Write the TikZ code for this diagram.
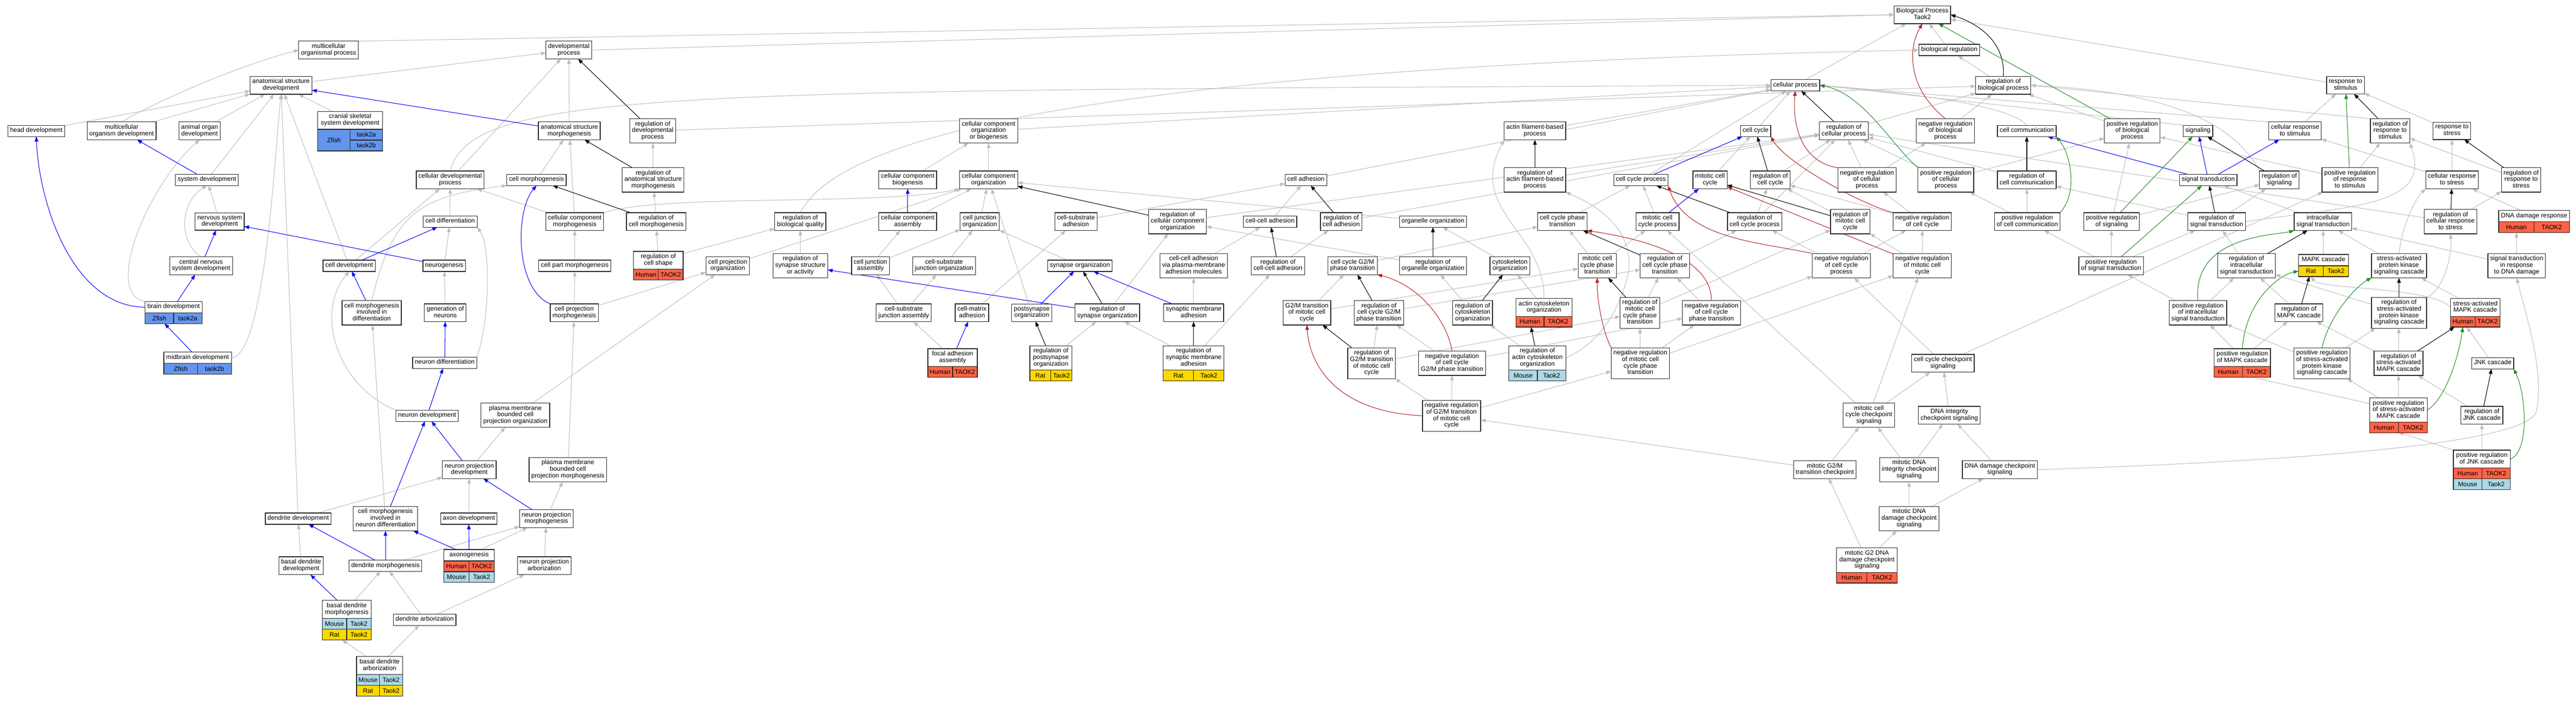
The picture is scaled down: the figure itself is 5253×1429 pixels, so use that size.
\documentclass[tikz,border=0pt]{standalone}
\usepackage{fontspec}
\setmainfont{Liberation Sans}
\usepackage{tikz}
\usetikzlibrary{
    arrows.meta,
    backgrounds, % edges go behind the terms
    calc % for the species rows
}

\definecolor{isagray}{HTML}{BEBEBE}
\definecolor{partblue}{HTML}{0000FF}
\definecolor{negred}{HTML}{B22222}
\definecolor{posgreen}{HTML}{228B22}
\definecolor{human}{HTML}{FF6347}
\definecolor{mouse}{HTML}{ADD8E6}
\definecolor{rat}{HTML}{FFD700}
\definecolor{zfish}{HTML}{6495ED}

\newcommand{\termfont}{\fontsize{13}{13.3}\selectfont}
% one species row under a term: term, row, species, gene, colour
\newcommand{\sprow}[5]{%
  \path let \p1=($(#1.south east)-(#1.south west)$) in
    node[cell, fill=#5, minimum width=0.5*\x1, anchor=north west]
      (#1s#2) at ($(#1.south west)+(0,#2*22-22)$) {#3}
    node[cell, fill=#5, minimum width=0.5*\x1, anchor=north east]
      (#1g#2) at ($(#1.south east)+(0,#2*22-22)$) {#4};
}

\tikzset{
  term/.style={draw=black!85, line width=1.3pt, fill=white, align=center,
    font=\termfont, inner xsep=4.5pt, inner ysep=4.85pt, outer sep=0pt,
    minimum height=23pt, execute at begin node=\strut, execute at end node=\strut},
  cell/.style={draw=black!85, line width=1.3pt, font=\termfont, inner sep=0pt,
    outer sep=0pt, minimum height=22pt},
  goedge/.style={line width=1.1pt, -{Triangle[length=10pt,width=7.5pt]}},
  isa/.style={goedge, draw=isagray},
  partof/.style={goedge, draw=partblue},
  regs/.style={goedge, draw=black},
  negregs/.style={goedge, draw=negred},
  posregs/.style={goedge, draw=posgreen}
}

\begin{document}
\begin{tikzpicture}[x=1pt, y=-1pt]
    \useasboundingbox (0,0) rectangle (5253,1429);

    % development, left
    \node[term] (mop) at (670,102) {multicellular\\organismal process};
    \node[term] (asd) at (573,174) {anatomical structure\\development};
    \node[term] (headdev) at (74,267) {head development};
    \node[term] (mod) at (248,267) {multicellular\\organism development};
    \node[term] (aod) at (407,267) {animal organ\\development};
    \node[term, minimum width=132pt] (cranial) at (714,245.5) {cranial skeletal\\system development};
    \node[term] (sysdev) at (422,367) {system development};
    \node[term] (nsd) at (448,452) {nervous system\\development};
    \node[term] (cnsd) at (410,542) {central nervous\\system development};
    \node[term, minimum width=116pt] (braindev) at (354,626.5) {brain development};
    \node[term, minimum width=138pt] (midbrain) at (403,730) {midbrain development};
    \node[term] (celldev) at (712,542) {cell development};
    \node[term] (cmid) at (758,638) {cell morphogenesis\\involved in\\differentiation};
    \node[term] (cdp) at (918,367) {cellular developmental\\process};
    \node[term] (celldiff) at (918,452) {cell differentiation};
    \node[term] (neurogenesis) at (906,542) {neurogenesis};
    \node[term] (genneur) at (908,638) {generation of\\neurons};
    \node[term] (neurdiff) at (907,740) {neuron differentiation};
    \node[term] (neurdev) at (871,848) {neuron development};
    \node[term] (pmbcpo) at (1051,847) {plasma membrane\\bounded cell\\projection organization};
    \node[term] (npd) at (957,958) {neuron projection\\development};
    \node[term] (pmbcpm) at (1158,958) {plasma membrane\\bounded cell\\projection morphogenesis};
    \node[term] (axondev) at (956,1058) {axon development};
    \node[term] (npm) at (1114,1058) {neuron projection\\morphogenesis};
    \node[term, minimum width=103pt] (axonogenesis) at (956.5,1132.5) {axonogenesis};
    \node[term] (npa) at (1110,1154) {neuron projection\\arborization};
    \node[term] (dendev) at (608,1058) {dendrite development};
    \node[term] (cmind) at (786,1058) {cell morphogenesis\\involved in\\neuron differentiation};
    \node[term] (bdd) at (614,1154) {basal dendrite\\development};
    \node[term] (denmorph) at (786,1154) {dendrite morphogenesis};
    \node[term, minimum width=100pt] (bdm) at (707,1243) {basal dendrite\\morphogenesis};
    \node[term] (denarb) at (866,1264) {dendrite arborization};
    \node[term, minimum width=94pt] (bda) at (774,1357.5) {basal dendrite\\arborization};

    % morphogenesis
    \node[term] (devproc) at (1160,102) {developmental\\process};
    \node[term] (asm) at (1161,267) {anatomical structure\\morphogenesis};
    \node[term] (regdevproc) at (1331,267) {regulation of\\developmental\\process};
    \node[term] (cellmorph) at (1094,367) {cell morphogenesis};
    \node[term] (regasm) at (1332,367) {regulation of\\anatomical structure\\morphogenesis};
    \node[term] (ccmorph) at (1172,452) {cellular component\\morphogenesis};
    \node[term] (regcellmorph) at (1338,452) {regulation of\\cell morphogenesis};
    \node[term] (regbioq) at (1632,452) {regulation of\\biological quality};
    \node[term] (cpmorph) at (1172,542) {cell part morphogenesis};
    \node[term, minimum width=101pt] (regcellshape) at (1342.5,531) {regulation of\\cell shape};
    \node[term] (cpo) at (1484,542) {cell projection\\organization};
    \node[term] (regsynstruct) at (1632,542) {regulation of\\synapse structure\\or activity};
    \node[term] (cpm) at (1171,638) {cell projection\\morphogenesis};

    % component organization
    \node[term] (ccob) at (2016,267) {cellular component\\organization\\or biogenesis};
    \node[term] (ccb) at (1851,367) {cellular component\\biogenesis};
    \node[term] (cco) at (2016,367) {cellular component\\organization};
    \node[term] (cca) at (1851,452) {cellular component\\assembly};
    \node[term] (cjo) at (1998,452) {cell junction\\organization};
    \node[term] (csa) at (2194,452) {cell-substrate\\adhesion};
    \node[term] (regcco) at (2401,452) {regulation of\\cellular component\\organization};
    \node[term] (cellcelladh) at (2590,452) {cell-cell adhesion};
    \node[term] (cja) at (1775,542) {cell junction\\assembly};
    \node[term] (csjo) at (1925,542) {cell-substrate\\junction organization};
    \node[term] (synorg) at (2202,542) {synapse organization};
    \node[term] (ccapm) at (2434,542) {cell-cell adhesion\\via plasma-membrane\\adhesion molecules};
    \node[term] (regccadh) at (2606,542) {regulation of\\cell-cell adhesion};
    \node[term] (csja) at (1843,638) {cell-substrate\\junction assembly};
    \node[term] (cmadh) at (1982,638) {cell-matrix\\adhesion};
    \node[term] (postsynorg) at (2104,638) {postsynapse\\organization};
    \node[term] (regsynorg) at (2258,638) {regulation of\\synapse organization};
    \node[term] (synmemadh) at (2434,638) {synaptic membrane\\adhesion};
    \node[term, minimum width=101pt] (faa) at (1942.5,729.5) {focal adhesion\\assembly};
    \node[term, minimum width=86pt] (regpostsyn) at (2143,730) {regulation of\\postsynapse\\organization};
    \node[term, minimum width=124pt] (regsynmemadh) at (2434,730) {regulation of\\synaptic membrane\\adhesion};

    % cell cycle
    \node[term] (afbp) at (3130,267) {actin filament-based\\process};
    \node[term] (regafbp) at (3130,367) {regulation of\\actin filament-based\\process};
    \node[term] (celladh) at (2663,367) {cell adhesion};
    \node[term] (ccp) at (3346,367) {cell cycle process};
    \node[term] (mcc) at (3487,367) {mitotic cell\\cycle};
    \node[term] (regcelladh) at (2735,452) {regulation of\\cell adhesion};
    \node[term] (orgorg) at (2922,452) {organelle organization};
    \node[term] (ccpt) at (3186,452) {cell cycle phase\\transition};
    \node[term] (mccp) at (3380,452) {mitotic cell\\cycle process};
    \node[term] (ccg2m) at (2758,542) {cell cycle G2/M\\phase transition};
    \node[term] (regorgorg) at (2922,542) {regulation of\\organelle organization};
    \node[term] (cytorg) at (3079,542) {cytoskeleton\\organization};
    \node[term] (mccpt) at (3257,542) {mitotic cell\\cycle phase\\transition};
    \node[term] (regccpt) at (3395,542) {regulation of\\cell cycle phase\\transition};
    \node[term] (g2mmcc) at (2665,638) {G2/M transition\\of mitotic cell\\cycle};
    \node[term] (regccg2m) at (2812,638) {regulation of\\cell cycle G2/M\\phase transition};
    \node[term] (regcytorg) at (3003,638) {regulation of\\cytoskeleton\\organization};
    \node[term, minimum width=115pt] (actcytorg) at (3148.5,627) {actin cytoskeleton\\organization};
    \node[term] (regmccpt) at (3344,638) {regulation of\\mitotic cell\\cycle phase\\transition};
    \node[term] (negregccpt) at (3490,638) {negative regulation\\of cell cycle\\phase transition};
    \node[term] (regg2mmcc) at (2797,741) {regulation of\\G2/M transition\\of mitotic cell\\cycle};
    \node[term] (negregccg2m) at (2961,741) {negative regulation\\of cell cycle\\G2/M phase transition};
    \node[term, minimum width=116pt] (regactcyt) at (3135,730) {regulation of\\actin cytoskeleton\\organization};
    \node[term] (negregmccpt) at (3345,741) {negative regulation\\of mitotic cell\\cycle phase\\transition};
    \node[term] (negregg2mmcc) at (2960,848) {negative regulation\\of G2/M transition\\of mitotic cell\\cycle};

    % regulation and checkpoints
    \node[term] (bp) at (3920,30) {Biological Process\\Taok2};
    \node[term] (bioreg) at (3975,102) {biological regulation};
    \node[term] (cellproc) at (3661,174) {cellular process};
    \node[term] (regbp) at (4085,174) {regulation of\\biological process};
    \node[term] (cellcycle) at (3580,267) {cell cycle};
    \node[term] (regcellproc) at (3760,267) {regulation of\\cellular process};
    \node[term] (negregbp) at (3967,267) {negative regulation\\of biological\\process};
    \node[term] (cellcomm) at (4133,267) {cell communication};
    \node[term] (posregbp) at (4348,267) {positive regulation\\of biological\\process};
    \node[term] (regcc) at (3610,367) {regulation of\\cell cycle};
    \node[term] (negregcellproc) at (3807,367) {negative regulation\\of cellular\\process};
    \node[term] (posregcellproc) at (3968,367) {positive regulation\\of cellular\\process};
    \node[term] (regcellcomm) at (4133,367) {regulation of\\cell communication};
    \node[term] (regccp) at (3578,452) {regulation of\\cell cycle process};
    \node[term] (regmcc) at (3773,452) {regulation of\\mitotic cell\\cycle};
    \node[term] (negregcc) at (3920,452) {negative regulation\\of cell cycle};
    \node[term] (posregcellcomm) at (4134,452) {positive regulation\\of cell communication};
    \node[term] (posregsig) at (4306,452) {positive regulation\\of signaling};
    \node[term] (negregccp) at (3755,542) {negative regulation\\of cell cycle\\process};
    \node[term] (negregmcc) at (3920,542) {negative regulation\\of mitotic cell\\cycle};
    \node[term] (posregst) at (4305,542) {positive regulation\\of signal transduction};
    \node[term] (ccchk) at (3962,741) {cell cycle checkpoint\\signaling};
    \node[term] (mccchk) at (3811,847) {mitotic cell\\cycle checkpoint\\signaling};
    \node[term] (dnaint) at (3975,847) {DNA integrity\\checkpoint signaling};
    \node[term] (mg2mchk) at (3721,958) {mitotic G2/M\\transition checkpoint};
    \node[term] (mdnaint) at (3893,958) {mitotic DNA\\integrity checkpoint\\signaling};
    \node[term] (dnadmgchk) at (4078,958) {DNA damage checkpoint\\signaling};
    \node[term] (mdnadmg) at (3893,1058) {mitotic DNA\\damage checkpoint\\signaling};
    \node[term, minimum width=124pt] (mg2dna) at (3807,1142.5) {mitotic G2 DNA\\damage checkpoint\\signaling};

    % signaling and stress
    \node[term] (resstim) at (4783,174) {response to\\stimulus};
    \node[term] (signaling) at (4482,267) {signaling};
    \node[term] (cellresstim) at (4680,267) {cellular response\\to stimulus};
    \node[term] (regresstim) at (4874,267) {regulation of\\response to\\stimulus};
    \node[term] (resstress) at (5000,267) {response to\\stress};
    \node[term] (sigtrans) at (4503,367) {signal transduction};
    \node[term] (regsig) at (4648,367) {regulation of\\signaling};
    \node[term] (posregresstim) at (4792,367) {positive regulation\\of response\\to stimulus};
    \node[term] (cellresstress) at (5000,367) {cellular response\\to stress};
    \node[term] (regresstress) at (5141,367) {regulation of\\response to\\stress};
    \node[term] (regst) at (4520,452) {regulation of\\signal transduction};
    \node[term] (intrast) at (4737,452) {intracellular\\signal transduction};
    \node[term] (regcellresstress) at (4997,452) {regulation of\\cellular response\\to stress};
    \node[term, minimum width=143pt] (dnadmgres) at (5167.5,441) {DNA damage response};
    \node[term] (regintrast) at (4581,542) {regulation of\\intracellular\\signal transduction};
    \node[term, minimum width=102pt] (mapk) at (4738,530.5) {MAPK cascade};
    \node[term] (sapk) at (4892,542) {stress-activated\\protein kinase\\signaling cascade};
    \node[term] (stdna) at (5132,542) {signal transduction\\in response\\to DNA damage};
    \node[term] (posregintrast) at (4482,638) {positive regulation\\of intracellular\\signal transduction};
    \node[term] (regmapk) at (4688,638) {regulation of\\MAPK cascade};
    \node[term] (regsapk) at (4892,638) {regulation of\\stress-activated\\protein kinase\\signaling cascade};
    \node[term, minimum width=101pt] (samapk) at (5047.5,627) {stress-activated\\MAPK cascade};
    \node[term, minimum width=115pt] (posregmapk) at (4572.5,729.5) {positive regulation\\of MAPK cascade};
    \node[term] (posregsapk) at (4735,741) {positive regulation\\of stress-activated\\protein kinase\\signaling cascade};
    \node[term] (regsamapk) at (4891,741) {regulation of\\stress-activated\\MAPK cascade};
    \node[term] (jnk) at (5083,741) {JNK cascade};
    \node[term, minimum width=118pt] (posregsamapk) at (4891,836.5) {positive regulation\\of stress-activated\\MAPK cascade};
    \node[term] (regjnk) at (5061,847) {regulation of\\JNK cascade};
    \node[term, minimum width=116pt] (posregjnk) at (5061,936.5) {positive regulation\\of JNK cascade};

    % species rows
    \path let \p1=($(cranial.south east)-(cranial.south west)$) in
      node[cell, fill=zfish, minimum width=0.5*\x1, minimum height=44pt, anchor=north west] (cranials1) at (cranial.south west) {Zfish}
      node[cell, fill=zfish, minimum width=0.5*\x1, anchor=north east] (cranialg1) at (cranial.south east) {taok2a}
      node[cell, fill=zfish, minimum width=0.5*\x1, anchor=north east] (cranialg2) at ($(cranial.south east)+(0,22)$) {taok2b};
    \sprow{braindev}{1}{Zfish}{taok2a}{zfish}
    \sprow{midbrain}{1}{Zfish}{taok2b}{zfish}
    \sprow{axonogenesis}{1}{Human}{TAOK2}{human}
    \sprow{axonogenesis}{2}{Mouse}{Taok2}{mouse}
    \sprow{bdm}{1}{Mouse}{Taok2}{mouse}
    \sprow{bdm}{2}{Rat}{Taok2}{rat}
    \sprow{bda}{1}{Mouse}{Taok2}{mouse}
    \sprow{bda}{2}{Rat}{Taok2}{rat}
    \sprow{regcellshape}{1}{Human}{TAOK2}{human}
    \sprow{faa}{1}{Human}{TAOK2}{human}
    \sprow{regpostsyn}{1}{Rat}{Taok2}{rat}
    \sprow{regsynmemadh}{1}{Rat}{Taok2}{rat}
    \sprow{actcytorg}{1}{Human}{TAOK2}{human}
    \sprow{regactcyt}{1}{Mouse}{Taok2}{mouse}
    \sprow{mg2dna}{1}{Human}{TAOK2}{human}
    \sprow{dnadmgres}{1}{Human}{TAOK2}{human}
    \sprow{mapk}{1}{Rat}{Taok2}{rat}
    \sprow{samapk}{1}{Human}{TAOK2}{human}
    \sprow{posregmapk}{1}{Human}{TAOK2}{human}
    \sprow{posregsamapk}{1}{Human}{TAOK2}{human}
    \sprow{posregjnk}{1}{Human}{TAOK2}{human}
    \sprow{posregjnk}{2}{Mouse}{Taok2}{mouse}

    \begin{scope}[on background layer]
    \fill[white] (0,0) rectangle (5253,1429);
    % is a
    \foreach \a/\b in {mop.north east/bp.west, devproc.east/bp.west, cellproc/bp, bioreg/bp, resstim/bp,
        mod/asd, aod/asd, headdev/asd, sysdev/asd, nsd/sysdev, cranial/asd, celldev/asd, celldev/cdp,
        asm/devproc, asd/devproc, cdp/devproc, cellmorph/asm, ccmorph/asm, regasm/regdevproc,
        celldiff/cdp, ccmorph/cdp, regcellmorph/regasm, regcellshape/regcellmorph, regcellshape/regbioq,
        neurogenesis/celldiff, genneur/neurogenesis, npd/pmbcpo, pmbcpo/cpo, pmbcpm/cpm, axondev/npd,
        npm/pmbcpm, axonogenesis/npm, npa/npm, denarb/npa, denarb/denmorph, dendev/asd, dendev/npd,
        cmind/cmid, denmorph/npm, bdd/dendev, bdm/denmorph, bda/bdms2, bda/denarb, cpm/cpmorph, cpm/cpo,
        cpmorph/ccmorph, cpo/cco, regsynstruct/regbioq, regdevproc/regbp,
        ccob/cellproc, ccb/ccob, cco/ccob, cca/cco, cja/cjo, cja/cca, cjo/cco, csjo/cjo, synorg/cjo,
        csa/celladh, regcco/regcellproc, orgorg/cco, regorgorg/regcco, cellcelladh/celladh,
        ccapm/cellcelladh, regccadh/regcelladh, csja/cja, csja/csjo, cmadh/csa, postsynorg/cco,
        regsynorg/regcco, synmemadh/ccapm, faa/csja, regpostsyn/regsynorg, regsynmemadh/regsynorg,
        regsynmemadh/regccadh,
        celladh/cellproc, regcelladh/regcellproc, afbp/cellproc, regafbp/regcellproc, cytorg/orgorg,
        regcytorg/regorgorg, actcytorg/cytorg, regactcyt/regcytorg, ccpt/ccp, mccp/ccp, ccp/cellproc,
        mccpt/ccpt, mccpt/mccp, regccpt/regccp, ccg2m/ccpt, g2mmcc/ccg2m, g2mmcc/mccpt,
        regccg2m/regccpt, negregccg2m/regccg2m, negregccg2m/negregccpt, regg2mmcc/regccg2m,
        regg2mmcc/regmccpt, negregg2mmcc/regg2mmcc, negregg2mmcc/negregccg2m,
        negregg2mmcc/negregmccpt, mg2mchk/negregg2mmcc, regmccpt/regccpt, regmccpt/regmcc,
        negregmccpt/regmccpt, negregmccpt/negregccpt, negregmccpt/negregmcc, negregccpt/regccpt,
        negregccpt/negregccp,
        regbp/bioreg, negregbp/regbp, posregbp/regbp, cellcycle/cellproc, regcellproc/regbp,
        negregcellproc/regcellproc, negregcellproc/negregbp, posregcellproc/regcellproc,
        posregcellproc/posregbp, mcc/cellcycle, regcc/regcellproc, negregcc/regcc,
        negregcc/negregcellproc, regccp/regcc, regccp/regcellproc, regmcc/regcc, negregmcc/regmcc,
        negregmcc/negregcc, negregccp/regccp, negregccp/negregcc, regcellcomm/regcellproc,
        posregcellcomm/regcellcomm, posregcellcomm/posregcellproc,
        ccchk/negregccp, ccchk/posregresstim, mccchk/ccchk, mccchk/negregmcc, mccchk/mccp,
        dnaint/ccchk, mg2mchk/mccchk, mdnaint/mccchk, mdnaint/dnaint, dnadmgchk/dnaint,
        mdnadmg/mdnaint, mdnadmg/dnadmgchk, mg2dna/mg2mchk, mg2dna/mdnadmg,
        signaling.north west/cellproc.east, posregsig/regsig, posregsig/posregbp, posregst/posregsig,
        posregst/regst, posregst/posregcellcomm, cellresstim/resstim,
        cellresstim.north west/cellproc.east, regresstim.north west/regbp.east,
        posregresstim/regresstim, posregresstim/posregbp, resstress/resstim, cellresstress/resstress,
        cellresstress/cellresstim, regresstress/regresstim, regst/regsig, regst/regcellcomm,
        intrast/sigtrans, regintrast/regst, mapk/intrast, sapk/intrast, stdna/intrast,
        stdna/dnadmgress1, posregintrast/regintrast, posregintrast/posregst, regmapk/regintrast,
        regsapk/regintrast, samapk/sapk, regcellresstress/regresstress,
        regcellresstress/regcellproc, dnadmgres/cellresstress, posregmapk/regmapk,
        posregmapk/posregintrast, posregsapk/regsapk, posregsapk/posregintrast, regsamapk/regsapk,
        regsamapk/regmapk, jnk/samapks1, posregsamapk/posregmapks1, posregsamapk/posregsapk,
        posregsamapk/regsamapk, regjnk/regsamapk, posregjnk/regjnk, posregjnk/posregsamapks1}
        \draw[isa] (\a) -- (\b);
    \draw[isa] (mod.north) .. controls (330,200) and (500,130) .. (mop.west);
    \draw[isa] (braindev.north west) .. controls (210,600) and (300,380) .. (aod.south);
    \draw[isa] (midbrain.east) .. controls (540,725) and (560,320) .. (asd.south);
    \draw[isa] (cnsd.north) .. controls (360,490) and (370,410) .. (sysdev.south);
    \draw[isa] (neurdiff.north east) .. controls (1000,650) and (1000,500) .. (celldiff.south east);
    \draw[isa] (neurdev.north west) .. controls (690,790) and (640,640) .. (celldev.south);
    \draw[isa] (cmid.north) .. controls (800,440) and (850,400) .. (cellmorph.south west);
    \draw[isa] (ccmorph.north east) .. controls (1350,395) and (1800,420) .. (cco.south west);
    \draw[isa] (regbioq.north) .. controls (1700,300) and (2100,140) .. (bioreg.west);
    \draw[isa] (cdp.north) .. controls (960,180) and (1400,185) .. (cellproc.west);
    \draw[isa] (actcytorg.north) .. controls (3150,470) and (2990,430) .. (afbp.south west);
    \draw[isa] (regactcyt.east) .. controls (3260,700) and (3300,640) .. (3320,560)
        .. controls (3335,470) and (3260,420) .. (regafbp.south east);
    \draw[isa] (cellcomm.north) .. controls (4100,215) and (3900,190) .. (cellproc.east);
    \draw[isa] (regsig.north west) .. controls (4570,280) and (4480,190) .. (regbp.east);
    \draw[isa] (regst.east) .. controls (4800,420) and (4960,420) .. (regresstim.south east);
    \draw[isa] (samapk.west) .. controls (4960,585) and (4730,590) .. (mapks1.south);
    \draw[isa] (sapk.north) .. controls (4900,450) and (4930,400) .. (cellresstress.south west);
    \draw[isa] (regsapk.north east) .. controls (4985,590) and (5000,520) .. (regcellresstress.south);
    \draw[isa] (dnadmgchk.east) .. controls (4700,940) and (5150,905) .. (5172,840)
        .. controls (5190,760) and (5150,640) .. (stdna.south);
    % part of
    \foreach \a/\b in {sysdev/mod, cnsd/nsd, braindev/cnsd, midbrain/braindevs1, celldev/celldiff,
        cmid/celldev, asm/asd, neurogenesis/nsd, neurdiff/genneur, neurdev/neurdiff, npd/neurdev,
        npm/npd, axonogenesis/axondev, cmind/neurdev, denmorph/dendev, denmorph/cmind,
        axonogenesis/cmind, bdm/bdd, regsynorg/regsynstruct, cca/ccb, postsynorg/synorg,
        synmemadh/synorg, faa/cmadh, mccp/mcc, ccp/cellcycle, sigtrans/signaling,
        sigtrans/cellresstim, sigtrans/cellcomm}
        \draw[partof] (\a) -- (\b);
    \draw[partof] (braindev.west) .. controls (150,626) and (80,420) .. (headdev.south);
    \draw[partof] (cpm.north west) .. controls (1050,590) and (1050,430) .. (cellmorph.south);
    % regulates
    \foreach \a/\b in {regdevproc/devproc, regasm/asm, regcellmorph/cellmorph, regcco/cco,
        regccadh/cellcelladh, regsynorg/synorg, regpostsyn/postsynorg, regsynmemadh/synmemadh,
        regcelladh/celladh, regafbp/afbp, regorgorg/orgorg, regcytorg/cytorg, regactcyt/actcytorgs1,
        regccp/ccp, regccpt/ccpt, regccg2m/ccg2m, regg2mmcc/g2mmcc, regmccpt/mccpt,
        regcellproc/cellproc, regcc/cellcycle, regmcc/mcc, regcellcomm/cellcomm, regsig/signaling,
        regresstim/resstim, regresstress/resstress, regst/sigtrans, regintrast/intrast,
        regmapk/mapks1, regsapk/sapk, regcellresstress/cellresstress, regsamapk/samapks1, regjnk/jnk}
        \draw[regs] (\a) -- (\b);
    \draw[regs] (regbp.north) .. controls (4090,90) and (4040,50) .. (bp.east);
    % negatively regulates
    \foreach \a/\b in {negregmcc/mcc}
        \draw[negregs] (\a) -- (\b);
    \draw[negregs] (negregbp.north) .. controls (3890,180) and (3890,100) .. (bp.south);
    \draw[negregs] (negregcellproc.north west) .. controls (3670,330) and (3655,250) .. (cellproc.south);
    \draw[negregs] (negregcc.north west) .. controls (3790,415) and (3640,330) .. (cellcycle.south east);
    \draw[negregs] (negregccp.north west) .. controls (3600,495) and (3440,490) .. (ccp.south east);
    \draw[negregs] (negregccpt.north) .. controls (3490,510) and (3300,480) .. (ccpt.south east);
    \draw[negregs] (negregccg2m.north) .. controls (2950,650) and (2890,580) .. (ccg2m.south east);
    \draw[negregs] (negregg2mmcc.west) .. controls (2720,840) and (2670,740) .. (g2mmcc.south);
    \draw[negregs] (negregmccpt.north west) .. controls (3270,680) and (3257,620) .. (mccpt.south);
    % positively regulates
    \foreach \a/\b in {posregbp/bp, posregsig/signaling, posregst/sigtrans, posregresstim/resstim}
        \draw[posregs] (\a) -- (\b);
    \draw[posregs] (posregcellproc.north west) .. controls (3860,300) and (3800,190) .. (cellproc.east);
    \draw[posregs] (posregcellcomm.north east) .. controls (4240,390) and (4220,310) .. (cellcomm.south east);
    \draw[posregs] (posregintrast.north) .. controls (4470,480) and (4640,480) .. (intrast.south west);
    \draw[posregs] (posregmapk.north) .. controls (4580,610) and (4650,560) .. (mapks1.west);
    \draw[posregs] (posregsapk.north) .. controls (4750,640) and (4810,580) .. (sapk.south west);
    \draw[posregs] (posregsamapk.east) .. controls (4990,810) and (5015,720) .. (samapks1.south);
    \draw[posregs] (posregjnk.east) .. controls (5160,920) and (5150,800) .. (jnk.south east);
    \end{scope}
\end{tikzpicture}
\end{document}
